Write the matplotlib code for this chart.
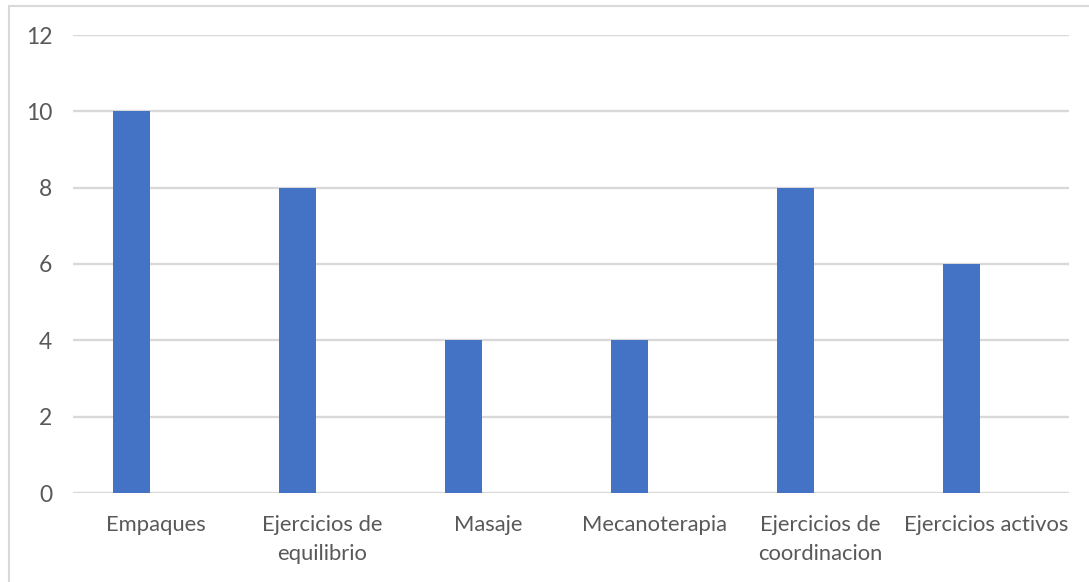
import matplotlib
matplotlib.use("Agg")
import matplotlib.pyplot as plt
from matplotlib.patches import Rectangle
import numpy as np

categories = ["Empaques", "Ejercicios de\nequilibrio", "Masaje", "Mecanoterapia",
              "Ejercicios de\ncoordinacion", "Ejercicios activos"]
values = [10, 8, 4, 4, 8, 6]
yticks = [0, 2, 4, 6, 8, 10, 12]

plt.rcParams['font.family'] = ['Lato', 'DejaVu Sans']

W, H = 1089, 582
fig = plt.figure(figsize=(W / 100, H / 100), dpi=100)
fig.patch.set_facecolor("white")

# chart frame (top and left edges visible)
fig.add_artist(Rectangle((9 / W, -0.1), 1.2, 1 - 6 / H + 0.1, transform=fig.transFigure,
                         fill=False, edgecolor="#d9d9d9", linewidth=1.5))

ax = fig.add_axes([73 / W, 1 - 493 / H, (1069 - 73) / W, (493 - 35) / H])
x = np.arange(len(categories))
ax.bar(x - 0.145, values, width=0.223, color="#4472C4", zorder=3)

ax.set_xlim(-0.5, len(categories) - 0.5)
ax.set_ylim(0, 12)
ax.set_yticks(yticks)
ax.set_yticklabels([str(t) for t in yticks], fontsize=16.5, color="#595959")
ax.set_xticks(x)
ax.set_xticklabels(categories, fontsize=15.8, color="#595959", linespacing=1.55)
ax.tick_params(axis="both", length=0)
ax.tick_params(axis="y", pad=15)
ax.tick_params(axis="x", pad=16)
ax.grid(axis="y", color="#d9d9d9", linewidth=1.7, zorder=0)
for s in ax.spines.values():
    s.set_visible(False)

fig.savefig("out.png", dpi=100, facecolor="white")
